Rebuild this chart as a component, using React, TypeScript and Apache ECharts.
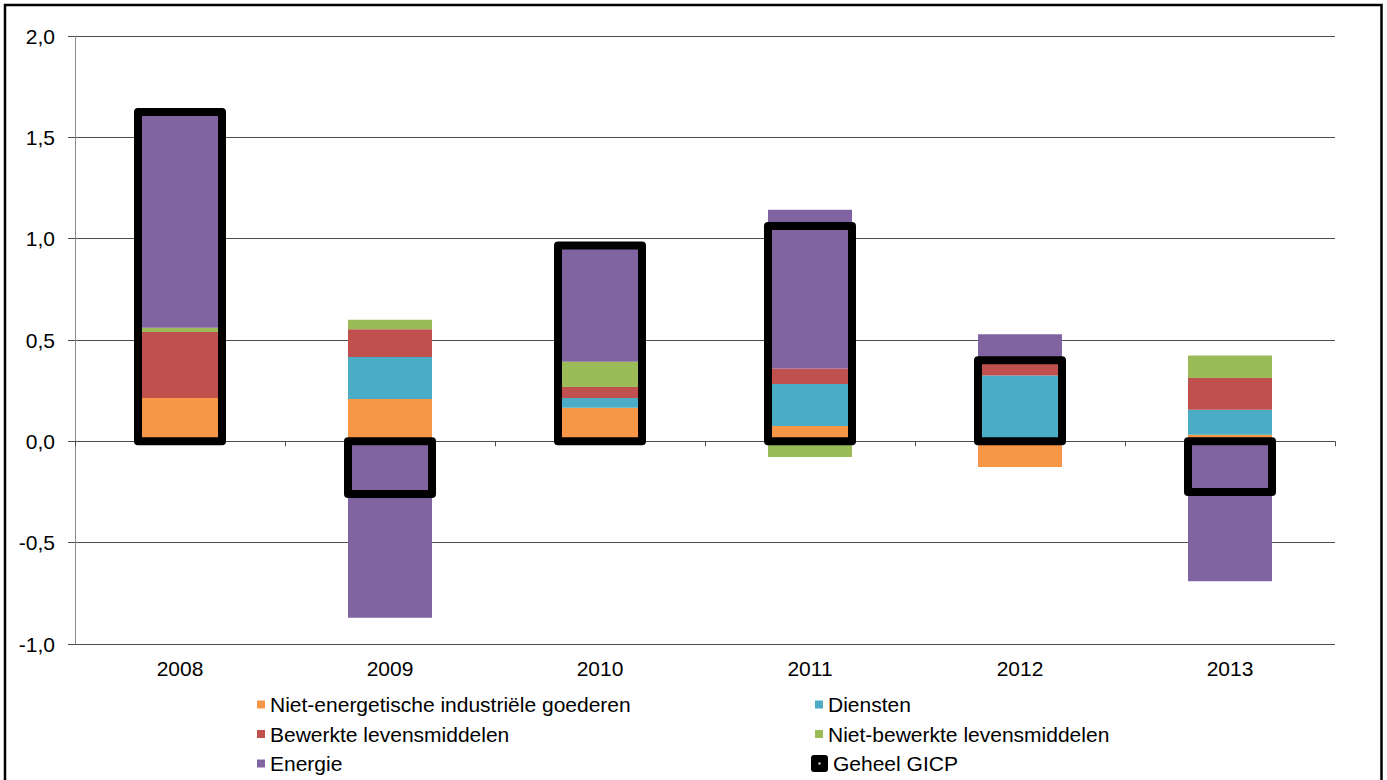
import React, { useEffect, useRef } from 'react';
import * as echarts from 'echarts';

const categories = ['2008', '2009', '2010', '2011', '2012', '2013'];
const seriesNames = [
  'Niet-energetische industriële goederen',
  'Diensten',
  'Bewerkte levensmiddelen',
  'Niet-bewerkte levensmiddelen',
  'Energie',
];
const totalName = 'Geheel GICP';
const nietEnergetisch = [0.214, 0.209, 0.166, 0.076, -0.127, 0.033];
const diensten = [0, 0.207, 0.048, 0.207, 0.325, 0.123];
const bewerkt = [0.325, 0.137, 0.054, 0.076, 0.06, 0.156];
const nietBewerkt = [0.022, 0.047, 0.125, -0.077, 0, 0.112];
const energie = [1.047, -0.871, 0.572, 0.784, 0.143, -0.69];
const geheelGICP = [1.625, -0.26, 0.966, 1.063, 0.4, -0.25];
const colors = ['#F79646', '#4BACC6', '#C0504D', '#9BBB59', '#8064A2'];
const yMin = -1;
const yMax = 2;
const yStep = 0.5;

const FONT = '"Liberation Sans", Arial, sans-serif';

export default function App() {
  const ref = useRef<HTMLDivElement>(null);
  useEffect(() => {
    const chart = echarts.init(ref.current!, null, { renderer: 'svg' });
    const values = [nietEnergetisch, diensten, bewerkt, nietBewerkt, energie];
    const series: any[] = values.map((d, i) => ({
      name: seriesNames[i],
      type: 'bar',
      stack: 'total',
      data: d,
      barWidth: '40%',
      itemStyle: { color: colors[i] },
      emphasis: { disabled: true },
    }));
    series.push({
      name: totalName,
      type: 'custom',
      z: 5,
      itemStyle: { color: '#000' },
      encode: { x: 0, y: 1 },
      data: geheelGICP.map((v, i) => [i, v]),
      renderItem: (params: any, api: any) => {
        const idx = api.value(0);
        const v = api.value(1);
        const p0 = api.coord([idx, 0]);
        const p1 = api.coord([idx, v]);
        const w = api.size([1, 0])[0] * 0.4;
        return {
          type: 'rect',
          shape: {
            x: p0[0] - w / 2,
            y: Math.min(p0[1], p1[1]),
            width: w,
            height: Math.abs(p1[1] - p0[1]),
          },
          style: { fill: 'none', stroke: '#000', lineWidth: 8, lineJoin: 'round' },
        };
      },
    });
    const legendText = { color: '#000', fontSize: 21, fontFamily: FONT, lineHeight: 21 };
    const option: any = {
      animation: false,
      backgroundColor: '#fff',
      textStyle: { fontFamily: FONT },
      grid: { left: 75, right: 52, top: 36, bottom: 136, containLabel: false },
      graphic: [
        {
          type: 'rect',
          shape: { x: 5, y: 5, width: 1376.5, height: 800 },
          style: { fill: 'none', stroke: '#000', lineWidth: 2.5 },
          silent: true,
        },
      ],
      legend: [
        {
          left: 257,
          top: 694,
          orient: 'vertical',
          itemWidth: 8,
          itemHeight: 8,
          itemGap: 8.5,
          padding: 0,
          selectedMode: false,
          icon: 'rect',
          itemStyle: { borderWidth: 0 },
          textStyle: legendText,
          data: [seriesNames[0], seriesNames[2], seriesNames[4]],
        },
        {
          left: 815,
          top: 694,
          orient: 'vertical',
          itemWidth: 8,
          itemHeight: 8,
          itemGap: 8.5,
          padding: 0,
          selectedMode: false,
          icon: 'rect',
          itemStyle: { borderWidth: 0 },
          textStyle: legendText,
          data: [seriesNames[1], seriesNames[3]],
        },
        {
          left: 811,
          top: 753,
          orient: 'vertical',
          itemWidth: 17,
          itemHeight: 17,
          padding: 0,
          selectedMode: false,
          itemStyle: { borderWidth: 0, color: '#000' },
          textStyle: legendText,
          data: [
            {
              name: totalName,
              icon:
                'path://M3,0 H14 Q17,0 17,3 V14 Q17,17 14,17 H3 Q0,17 0,14 V3 Q0,0 3,0 Z M7.5,7.5 V9.5 H9.5 V7.5 Z',
              itemStyle: { color: '#000', borderWidth: 0 },
            },
          ],
        },
      ],
      xAxis: [
        {
          type: 'category',
          data: categories,
          position: 'bottom',
          axisLine: { show: false, onZero: false },
          axisTick: { show: false },
          axisLabel: { color: '#000', fontSize: 21, fontFamily: FONT, margin: 14 },
          splitLine: { show: false },
        },
        {
          type: 'category',
          data: categories,
          position: 'top',
          axisLine: { show: true, onZero: true, lineStyle: { color: '#4d4d4d', width: 1 } },
          axisTick: { show: true, inside: true, length: 5, lineStyle: { color: '#4d4d4d' } },
          axisLabel: { show: false },
          splitLine: { show: false },
        },
      ],
      yAxis: {
        type: 'value',
        min: yMin,
        max: yMax,
        interval: yStep,
        axisLine: { show: true, lineStyle: { color: '#8c8c8c', width: 1 } },
        axisTick: { show: true, length: 7, lineStyle: { color: '#4d4d4d' } },
        axisLabel: {
          color: '#000',
          fontSize: 21,
          fontFamily: FONT,
          margin: 20,
          formatter: (v: number) => v.toFixed(1).replace('.', ','),
        },
        splitLine: { show: true, lineStyle: { color: '#4d4d4d', width: 1 } },
      },
      series,
    };
    chart.setOption(option);
    return () => chart.dispose();
  }, []);
  return (
    <div
      ref={ref}
      style={{ position: 'absolute', left: 0, top: 0, width: 1387, height: 780, background: '#fff' }}
    />
  );
}
